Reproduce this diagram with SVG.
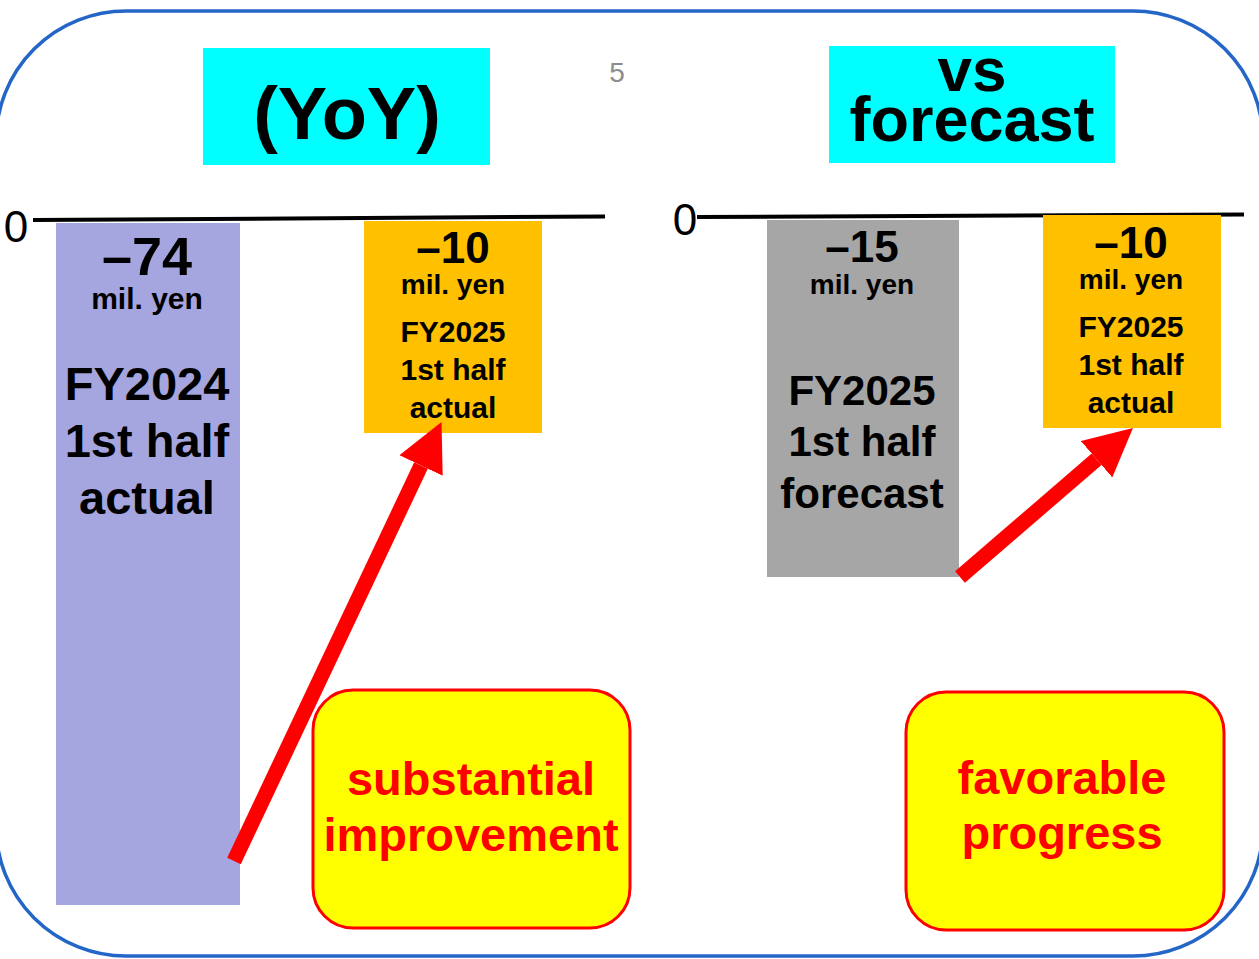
<svg xmlns="http://www.w3.org/2000/svg" width="1259" height="959" viewBox="0 0 1259 959">
  <style>
    text { font-family: "Liberation Sans", Arial, sans-serif; font-weight: bold; text-anchor: middle; fill: #000; }
    .zero { font-weight: normal; font-size: 44px; }
    .axis { stroke: #000; stroke-width: 4; }
    .big { font-size: 54px; }
    .mid { font-size: 44px; }
    .unit { font-size: 28px; }
    .label { font-size: 30px; }
    .caption { font-size: 47px; }
    .note { font-size: 47px; fill: #FF0000; }
    .callout { fill: #FFFF00; stroke: #FF0000; stroke-width: 3; }
    .arrow { stroke: #FF0000; stroke-width: 15; fill: none; marker-end: url(#head); }
  </style>
  <defs>
    <marker id="head" viewBox="0 0 48 48" refX="0" refY="24" markerWidth="48" markerHeight="48" markerUnits="userSpaceOnUse" orient="auto">
      <path d="M0,0 L48,24 L0,48 z" fill="#FF0000"/>
    </marker>
  </defs>

  <rect width="1259" height="959" fill="#FFFFFF"/>

  <!-- frame -->
  <rect id="frame" x="-4" y="11" width="1267" height="945" rx="130" ry="130" fill="none" stroke="#2466C7" stroke-width="3.5"/>

  <!-- page number -->
  <text x="617" y="82" style="font-weight:normal;font-size:28px;fill:#8C8C8C">5</text>

  <!-- headings -->
  <g id="heading-yoy">
    <rect x="203" y="48" width="287" height="117" fill="#00FFFF"/>
    <text x="347" y="139" style="font-size:74px">(YoY)</text>
  </g>
  <g id="heading-forecast">
    <rect x="829" y="46" width="286" height="117" fill="#00FFFF"/>
    <text x="972" y="91" style="font-size:62px">vs</text>
    <text x="972" y="141" style="font-size:63px">forecast</text>
  </g>

  <!-- zero axes -->
  <g id="axis-left">
    <text class="zero" x="16" y="242">0</text>
    <line class="axis" x1="33" y1="220" x2="605" y2="216.5"/>
  </g>
  <g id="axis-right">
    <text class="zero" x="685" y="235">0</text>
    <line class="axis" x1="697" y1="217" x2="1244" y2="214.5"/>
  </g>

  <!-- bars -->
  <g id="bar-fy2024-actual">
    <rect x="56" y="223" width="184" height="682" fill="#A5A5DF"/>
    <text class="big" x="147" y="275">–74</text>
    <text class="unit" x="147" y="309" style="font-size:30px">mil. yen</text>
    <text class="caption" x="147" y="400">FY2024</text>
    <text class="caption" x="147" y="457">1st half</text>
    <text class="caption" x="147" y="514">actual</text>
  </g>
  <g id="bar-fy2025-actual-yoy">
    <rect x="364" y="221" width="178" height="212" fill="#FFC000"/>
    <text class="mid" x="453" y="263">–10</text>
    <text class="unit" x="453" y="294">mil. yen</text>
    <text class="label" x="453" y="342">FY2025</text>
    <text class="label" x="453" y="380">1st half</text>
    <text class="label" x="453" y="418">actual</text>
  </g>
  <g id="bar-fy2025-forecast">
    <rect x="767" y="220" width="192" height="357" fill="#A6A6A6"/>
    <text class="mid" x="862" y="262">–15</text>
    <text class="unit" x="862" y="294">mil. yen</text>
    <text class="caption" x="862" y="405" style="font-size:42px">FY2025</text>
    <text class="caption" x="862" y="456" style="font-size:42px">1st half</text>
    <text class="caption" x="862" y="508" style="font-size:42px">forecast</text>
  </g>
  <g id="bar-fy2025-actual-plan">
    <rect x="1043" y="215" width="178" height="213" fill="#FFC000"/>
    <text class="mid" x="1131" y="258">–10</text>
    <text class="unit" x="1131" y="289">mil. yen</text>
    <text class="label" x="1131" y="337">FY2025</text>
    <text class="label" x="1131" y="375">1st half</text>
    <text class="label" x="1131" y="413">actual</text>
  </g>

  <!-- connectors -->
  <g id="connectors">
    <line class="arrow" x1="234" y1="861" x2="421" y2="465.5"/>
    <line class="arrow" x1="960" y1="577" x2="1096.6" y2="459.3"/>
  </g>

  <!-- callouts -->
  <g id="note-substantial">
    <rect class="callout" x="313" y="690" width="317" height="238" rx="40" ry="40"/>
    <text class="note" x="471" y="795">substantial</text>
    <text class="note" x="471" y="851">improvement</text>
  </g>
  <g id="note-favorable">
    <rect class="callout" x="906" y="692" width="318" height="238" rx="40" ry="40"/>
    <text class="note" x="1062" y="794">favorable</text>
    <text class="note" x="1062" y="849">progress</text>
  </g>
</svg>
